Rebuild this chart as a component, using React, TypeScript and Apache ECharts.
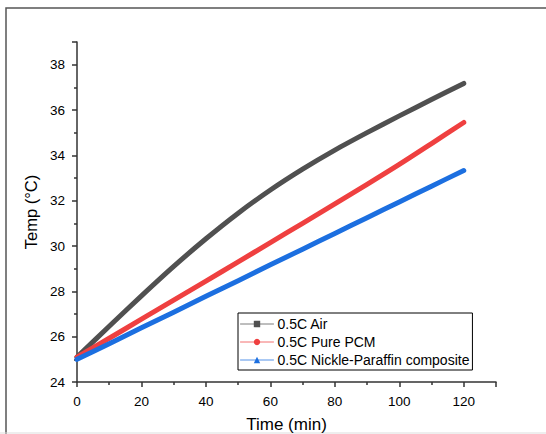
import React, { useEffect, useRef } from "react";
import * as echarts from "echarts";

const timeMin = [0, 10, 20, 30, 40, 50, 60, 70, 80, 90, 100, 110, 120];
const airTemp = [25.1, 26.46, 27.8, 29.1, 30.32, 31.45, 32.47, 33.39, 34.23, 35.0, 35.74, 36.46, 37.17];
const pcmTemp = [25.1, 25.93, 26.77, 27.61, 28.45, 29.3, 30.15, 31.0, 31.86, 32.72, 33.6, 34.52, 35.45];
const nickleTemp = [25.0, 25.69, 26.39, 27.08, 27.78, 28.47, 29.17, 29.86, 30.55, 31.25, 31.94, 32.64, 33.33];
const seriesNames = ["0.5C Air", "0.5C Pure PCM", "0.5C Nickle-Paraffin composite"];
const seriesColors = ["#505050", "#ef4040", "#1c6fe0"];
const seriesSymbols = ["rect", "circle", "triangle"];

const FONT = "'Liberation Sans', Arial, sans-serif";

export default function App() {
  const ref = useRef<HTMLDivElement>(null);
  useEffect(() => {
    if (!ref.current) return;
    const chart = echarts.init(ref.current, null, { renderer: "svg" });
    const dataSets = [airTemp, pcmTemp, nickleTemp];
    const axisCommon = {
      axisLine: { show: true, lineStyle: { color: "#333", width: 1.5 } },
      axisTick: { show: true, inside: false, length: 5, lineStyle: { color: "#333", width: 1.5 } },
      minorTick: { show: true, splitNumber: 2, length: 3, lineStyle: { color: "#333", width: 1.5 } },
      splitLine: { show: false },
    };
    chart.setOption({
      animation: false,
      backgroundColor: "#fff",
      textStyle: { fontFamily: FONT },
      grid: { left: 77, right: 50, top: 42, bottom: 52, containLabel: false, outerBoundsMode: "none" },
      graphic: [
        {
          type: "rect",
          shape: { x: 6, y: 8, width: 600, height: 600 },
          style: { fill: "none", stroke: "#555", lineWidth: 1.5 },
          silent: true,
          z: -1,
        },
        {
          type: "line",
          shape: { x1: 0, y1: 433, x2: 546, y2: 433 },
          style: { stroke: "#ddd", lineWidth: 1 },
          silent: true,
          z: -1,
        },
      ],
      legend: {
        orient: "vertical",
        left: 238,
        top: 313,
        padding: [4, 3, 3, 2],
        itemGap: 4,
        itemWidth: 33,
        itemHeight: 8,
        borderColor: "#000",
        borderWidth: 1,
        borderRadius: 0,
        backgroundColor: "#fff",
        lineStyle: { width: 1, opacity: 0.75 },
        textStyle: { fontSize: 14, color: "#000", fontFamily: FONT, padding: [0, 0, 0, -1] },
        data: seriesNames,
      },
      xAxis: {
        type: "value",
        min: 0,
        max: 130,
        interval: 20,
        name: "Time (min)",
        nameLocation: "middle",
        nameGap: 34,
        nameTextStyle: { fontSize: 17, color: "#000", fontFamily: FONT },
        axisLabel: { fontSize: 13.5, color: "#000", margin: 12, fontFamily: FONT, showMaxLabel: false },
        ...axisCommon,
      },
      yAxis: {
        type: "value",
        min: 24,
        max: 39,
        interval: 2,
        name: "Temp (°C)",
        nameLocation: "middle",
        nameGap: 29,
        nameRotate: 90,
        nameTextStyle: { fontSize: 16.5, color: "#000", fontFamily: FONT },
        axisLabel: { fontSize: 13.5, color: "#000", margin: 12, fontFamily: FONT, showMaxLabel: false },
        ...axisCommon,
      },
      series: seriesNames.map((name, i) => ({
        name,
        type: "line",
        data: timeMin.map((t, j) => [t, dataSets[i][j]]),
        smooth: 0.3,
        showSymbol: false,
        symbol: seriesSymbols[i],
        color: seriesColors[i],
        lineStyle: { width: 5, color: seriesColors[i], cap: "round", join: "round" },
        itemStyle: { color: seriesColors[i] },
      })),
    });
    return () => chart.dispose();
  }, []);
  return (
    <div
      ref={ref}
      style={{ position: "fixed", left: 0, top: 0, width: 546, height: 434 }}
    />
  );
}
